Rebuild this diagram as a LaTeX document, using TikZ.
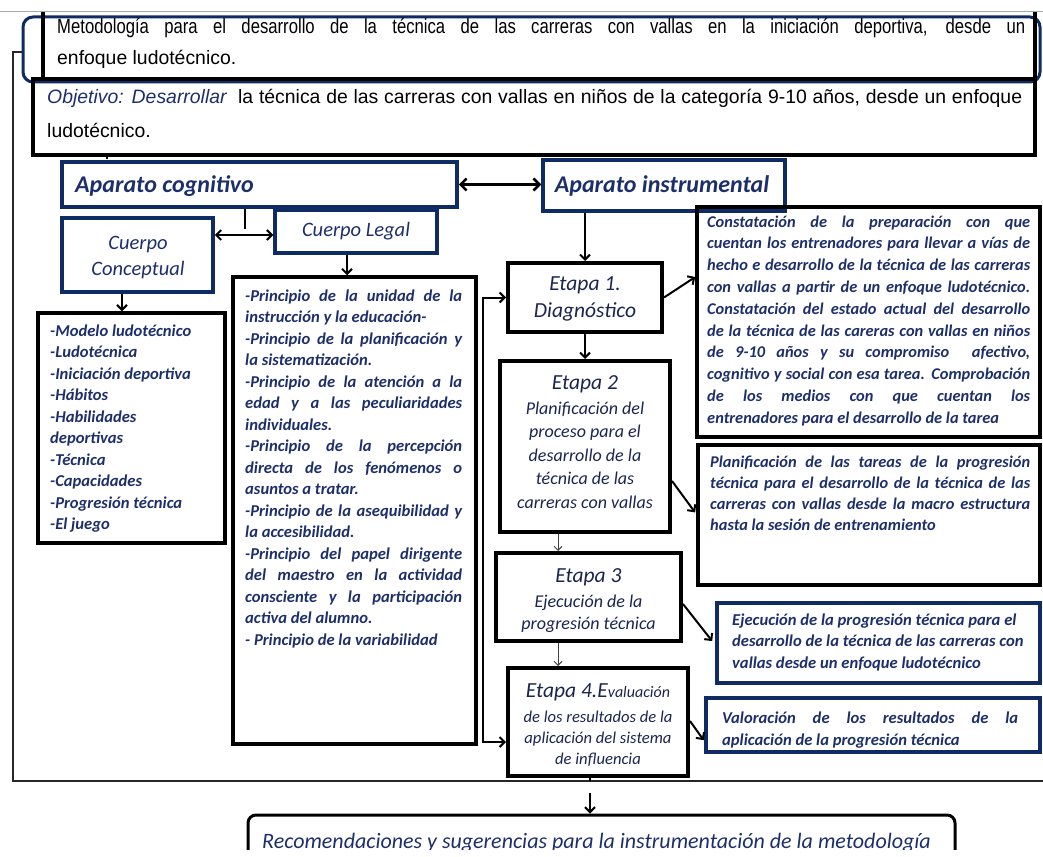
\documentclass[tikz,border=0pt]{standalone}
\usepackage{fontspec}
\usepackage{graphicx}
\setmainfont{Liberation Sans}
\newfontfamily\calfont{Carlito}
\usetikzlibrary{arrows.meta,calc}
\definecolor{bordnavy}{HTML}{0F2B63}
\definecolor{txtnavy}{HTML}{1D2F6B}
\definecolor{etapanavy}{HTML}{1A2550}
% one justified line spread over the full width of the surrounding box
\newcommand{\JLine}[1]{\makebox[\linewidth][s]{#1}}

\begin{document}
\begin{tikzpicture}[x=1pt,y=-1pt,
  blackbox/.style={draw=black, line width=3.5pt, inner sep=0pt, rectangle},
  navybox/.style={draw=bordnavy, line width=3.5pt, inner sep=0pt, rectangle},
  etapabox/.style={draw=black, line width=4pt, inner sep=0pt, rectangle},
  txt/.style={inner sep=0pt, anchor=base west, text=txtnavy,
    font=\calfont\bfseries\itshape\fontsize{16.6pt}{21.5pt}\selectfont},
  aparato/.style={inner sep=0pt, text=txtnavy,
    font=\calfont\bfseries\itshape\fontsize{24pt}{28pt}\selectfont},
  cuerpo/.style={inner sep=0pt, anchor=base, text=txtnavy,
    font=\calfont\itshape\fontsize{20.5pt}{26pt}\selectfont},
  etapahead/.style={inner sep=0pt, anchor=base, text=etapanavy,
    font=\calfont\itshape\fontsize{21.5pt}{27pt}\selectfont},
  etapabody/.style={inner sep=0pt, anchor=base, text=etapanavy,
    font=\calfont\itshape\fontsize{18pt}{23.5pt}\selectfont},
  arial/.style={inner sep=0pt, anchor=base west, text=black,
    font=\fontsize{19.4pt}{23pt}\selectfont},
  arr/.style={line width=2pt, -{Straight Barb[length=5pt,width=10pt]}},
  dbl/.style={line width=2.5pt, {Straight Barb[length=6pt,width=12pt]}-{Straight Barb[length=6pt,width=12pt]}},
  dblthin/.style={line width=2pt, {Straight Barb[length=5pt,width=10pt]}-{Straight Barb[length=5pt,width=10pt]}},
  thinarr/.style={line width=1pt, draw=black!75, -{Straight Barb[length=4pt,width=8pt]}},
  frame/.style={line width=1.8pt, draw=black!85}
]
\useasboundingbox (0,0) rectangle (1043,856);
\clip (0,0) rectangle (1043,849.5);

% page edge
\draw[black!35, line width=1pt] (0,12) -- (1043,12);

% ---------- heading ----------
\node[navybox, line width=3pt, rounded corners=10pt, minimum width=1017pt, minimum height=65pt] (titulo) at (531.5,49.5) {};
\draw[line width=3.5pt] (43,12) -- (43,79);
\draw[line width=3.5pt] (1035,12) -- (1035,79);
\node[blackbox, minimum width=1002pt, minimum height=76pt] (objetivo) at (534,117) {};

\node[arial] (ttit1) at (57,34) {\scalebox{0.86}[1.06]{\makebox[1125.6pt][s]{Metodología para el desarrollo de la técnica de las carreras con vallas en la iniciación deportiva, desde un}}};
\node[arial] (ttit2) at (57,65) {enfoque ludotécnico.};
\node[arial] (tobj1) at (47,104) {\makebox[975pt][s]{{\color{txtnavy}\itshape Objetivo: Desarrollar}\ \ la técnica de las carreras con vallas en niños de la categoría 9-10 años, desde un enfoque}};
\node[arial] (tobj2) at (47,137) {ludotécnico.};

% outer frame line
\coordinate (frameTop) at (13,52);
\coordinate (frameBot) at (13,781);
\coordinate (frameEnd) at (1043,781);
\draw[frame] (titulo.west |- frameTop) -- (frameTop) -- (frameBot) -- (frameEnd);

% ---------- aparatos ----------
\node[navybox, minimum width=395pt, minimum height=45pt] (cognitivo) at (259.5,184.5) {};
\node[navybox, minimum width=242pt, minimum height=51pt] (instrumental) at (664,185.5) {};
\node[aparato, anchor=base west] (tcog) at (75,192) {Aparato cognitivo};
\node[aparato, anchor=base] (tins) at (662,192) {Aparato instrumental};

\draw[line width=1.2pt, dash pattern=on 2pt off 1.5pt] (objetivo.south -| 107,0) -- (cognitivo.north -| 107,0);
\draw[dbl] (cognitivo.east) -- (instrumental.west |- cognitivo.east);

% ---------- cuerpos ----------
\node[navybox, minimum width=151pt, minimum height=74pt] (conceptual) at (137.5,255) {};
\node[navybox, minimum width=162pt, minimum height=43pt] (legal) at (356,231.5) {};
\node[cuerpo] (tconceptual) at (138,249) {\parbox[t]{140pt}{\centering Cuerpo\\Conceptual}};
\node[cuerpo] (tlegal) at (356,236) {Cuerpo Legal};

\coordinate (cogdrop) at (245,229);
\draw[line width=2pt] (cognitivo.south -| cogdrop) -- (cogdrop);
\draw[dblthin] (conceptual.east |- 0,235) -- (legal.west |- 0,235);

% ---------- contents ----------
\node[blackbox, minimum width=187pt, minimum height=230pt] (conceptos) at (131.5,428) {};
\node[blackbox, minimum width=243pt, minimum height=467pt] (principios) at (354.5,510.5) {};
\draw[arr] (conceptual.south -| 122,0) -- (conceptos.north -| 122,0);
\draw[arr] (legal.south -| 347,0) -- (principios.north -| 347,0);

\node[txt] (tconceptos) at (50,336) {\parbox[t]{170pt}{%
-Modelo ludotécnico\\
-Ludotécnica\\
-Iniciación deportiva\\
-Hábitos\\
-Habilidades\\
deportivas\\
-Técnica\\
-Capacidades\\
-Progresión técnica\\
-El juego}};

\node[txt] (tprincipios) at (245,301) {\parbox[t]{217pt}{%
\JLine{-Principio de la unidad de la}\\
instrucción y la educación-\\
\JLine{-Principio de la planificación y}\\
la sistematización.\\
\JLine{-Principio de la atención a la}\\
\JLine{edad y a las peculiaridades}\\
individuales.\\
\JLine{-Principio de la percepción}\\
\JLine{directa de los fenómenos o}\\
asuntos a tratar.\\
\JLine{-Principio de la asequibilidad y}\\
la accesibilidad.\\
\JLine{-Principio del papel dirigente}\\
\JLine{del maestro en la actividad}\\
\JLine{consciente y la participación}\\
activa del alumno.\\
- Principio de la variabilidad}};

% ---------- etapas ----------
\node[etapabox, minimum width=154pt, minimum height=69pt] (etapa1) at (585,297.5) {};
\node[etapabox, minimum width=170pt, minimum height=171pt] (etapa2) at (585,446.5) {};
\node[etapabox, minimum width=185pt, minimum height=88pt] (etapa3) at (588.5,597) {};
\node[etapabox, minimum width=180pt, minimum height=108pt] (etapa4) at (598,722) {};

\node[etapahead] (te1) at (585,290) {\parbox[t]{150pt}{\centering Etapa 1.\\Diagnóstico}};
\node[etapahead] (te2h) at (585,389) {Etapa 2};
\node[etapabody] (te2b) at (585,414) {\parbox[t]{166pt}{\centering Planificación del\\proceso para el\\desarrollo de la\\técnica de las\\carreras con vallas}};
\node[etapahead] (te3h) at (588.5,582) {Etapa 3};
\node[etapabody] (te3b) at (588.5,607) {\parbox[t]{180pt}{\centering\baselineskip=22pt Ejecución de la\\progresión técnica}};
\node[etapahead] (te4h) at (598,697) {Etapa 4.E{\fontsize{16pt}{20pt}\selectfont valuación}};
\node[etapabody, font=\calfont\itshape\fontsize{16.6pt}{21pt}\selectfont] (te4b) at (598,722) {\parbox[t]{176pt}{\centering de los resultados de la\\aplicación del sistema\\de influencia}};

\draw[arr] (instrumental.south -| etapa1.north) -- (etapa1.north);
\draw[arr] (etapa1.south) -- (etapa2.north);
\draw[thinarr] (etapa2.south -| 558,0) -- (etapa3.north -| 558,0);
\draw[thinarr] (etapa3.south -| 558,0) -- (etapa4.north -| 558,0);
\coordinate (fbBot) at (483,742);
\draw[dblthin] (etapa1.west) -| (fbBot) -- (etapa4.west |- fbBot);

% ---------- results ----------
\node[blackbox, minimum width=343pt, minimum height=230pt] (diag) at (868.5,322) {};
\node[blackbox, minimum width=342pt, minimum height=140pt] (plan) at (869,515) {};
\node[navybox, minimum width=323pt, minimum height=80pt] (ejec) at (878.5,643) {};
\node[navybox, minimum width=334pt, minimum height=54pt] (valor) at (873,725) {};

\node[txt, font=\calfont\bfseries\itshape\fontsize{16.4pt}{21.8pt}\selectfont] (tdiag) at (707,227) {\parbox[t]{323pt}{%
\JLine{Constatación de la preparación con que}\\
\JLine{cuentan los entrenadores para llevar a vías de}\\
\JLine{hecho e desarrollo de la técnica de las carreras}\\
\JLine{con vallas a partir de un enfoque ludotécnico.}\\
\JLine{Constatación del estado actual del desarrollo}\\
\JLine{de la técnica de las careras con vallas en niños}\\
\JLine{de 9-10 años y su compromiso\ \ afectivo,}\\
\JLine{cognitivo y social con esa tarea. Comprobación}\\
\JLine{de los medios con que cuentan los}\\
entrenadores para el desarrollo de la tarea}};

\node[txt, font=\calfont\bfseries\itshape\fontsize{16.4pt}{21pt}\selectfont] (tplan) at (710,467) {\parbox[t]{320pt}{%
\JLine{Planificación de las tareas de la progresión}\\
\JLine{técnica para el desarrollo de la técnica de las}\\
\JLine{carreras con vallas desde la macro estructura}\\
hasta la sesión de entrenamiento}};

\node[txt] (tejec) at (732,625) {\parbox[t]{300pt}{%
Ejecución de la progresión técnica para el\\
desarrollo de la técnica de las carreras con\\
vallas desde un enfoque ludotécnico}};

\node[txt, font=\calfont\bfseries\itshape\fontsize{16.6pt}{22pt}\selectfont] (tvalor) at (722,723) {\parbox[t]{296pt}{%
\JLine{Valoración de los resultados de la}\\
aplicación de la progresión técnica}};

\draw[arr] (etapa1.east) -- (diag.west |- 0,277);
\draw[arr, shorten >=2pt] (etapa2.east |- 0,481) -- (plan.west |- 0,514);
\draw[arr, shorten >=5pt] (etapa3.east |- 0,604) -- (ejec.west |- 0,645);
\draw[arr, shorten >=1pt] (etapa4.east |- 0,721) -- (valor.west |- 0,741);

% ---------- closing ----------
\node[draw=black, line width=3pt, rounded corners=8pt, minimum width=707pt, minimum height=65pt, inner sep=0pt] (recom) at (601.5,847.5) {};
\node[inner sep=0pt, anchor=base west, text=txtnavy, font=\calfont\itshape\fontsize{22pt}{26pt}\selectfont] (trecom) at (262,848) {Recomendaciones y sugerencias para la instrumentación de la metodología};
\coordinate (recomStart) at (590,793);
\draw[line width=1.8pt] (etapa4.south -| recomStart) -- (frameEnd -| recomStart);
\draw[arr] (recomStart) -- (recom.north -| recomStart);
\end{tikzpicture}
\end{document}
